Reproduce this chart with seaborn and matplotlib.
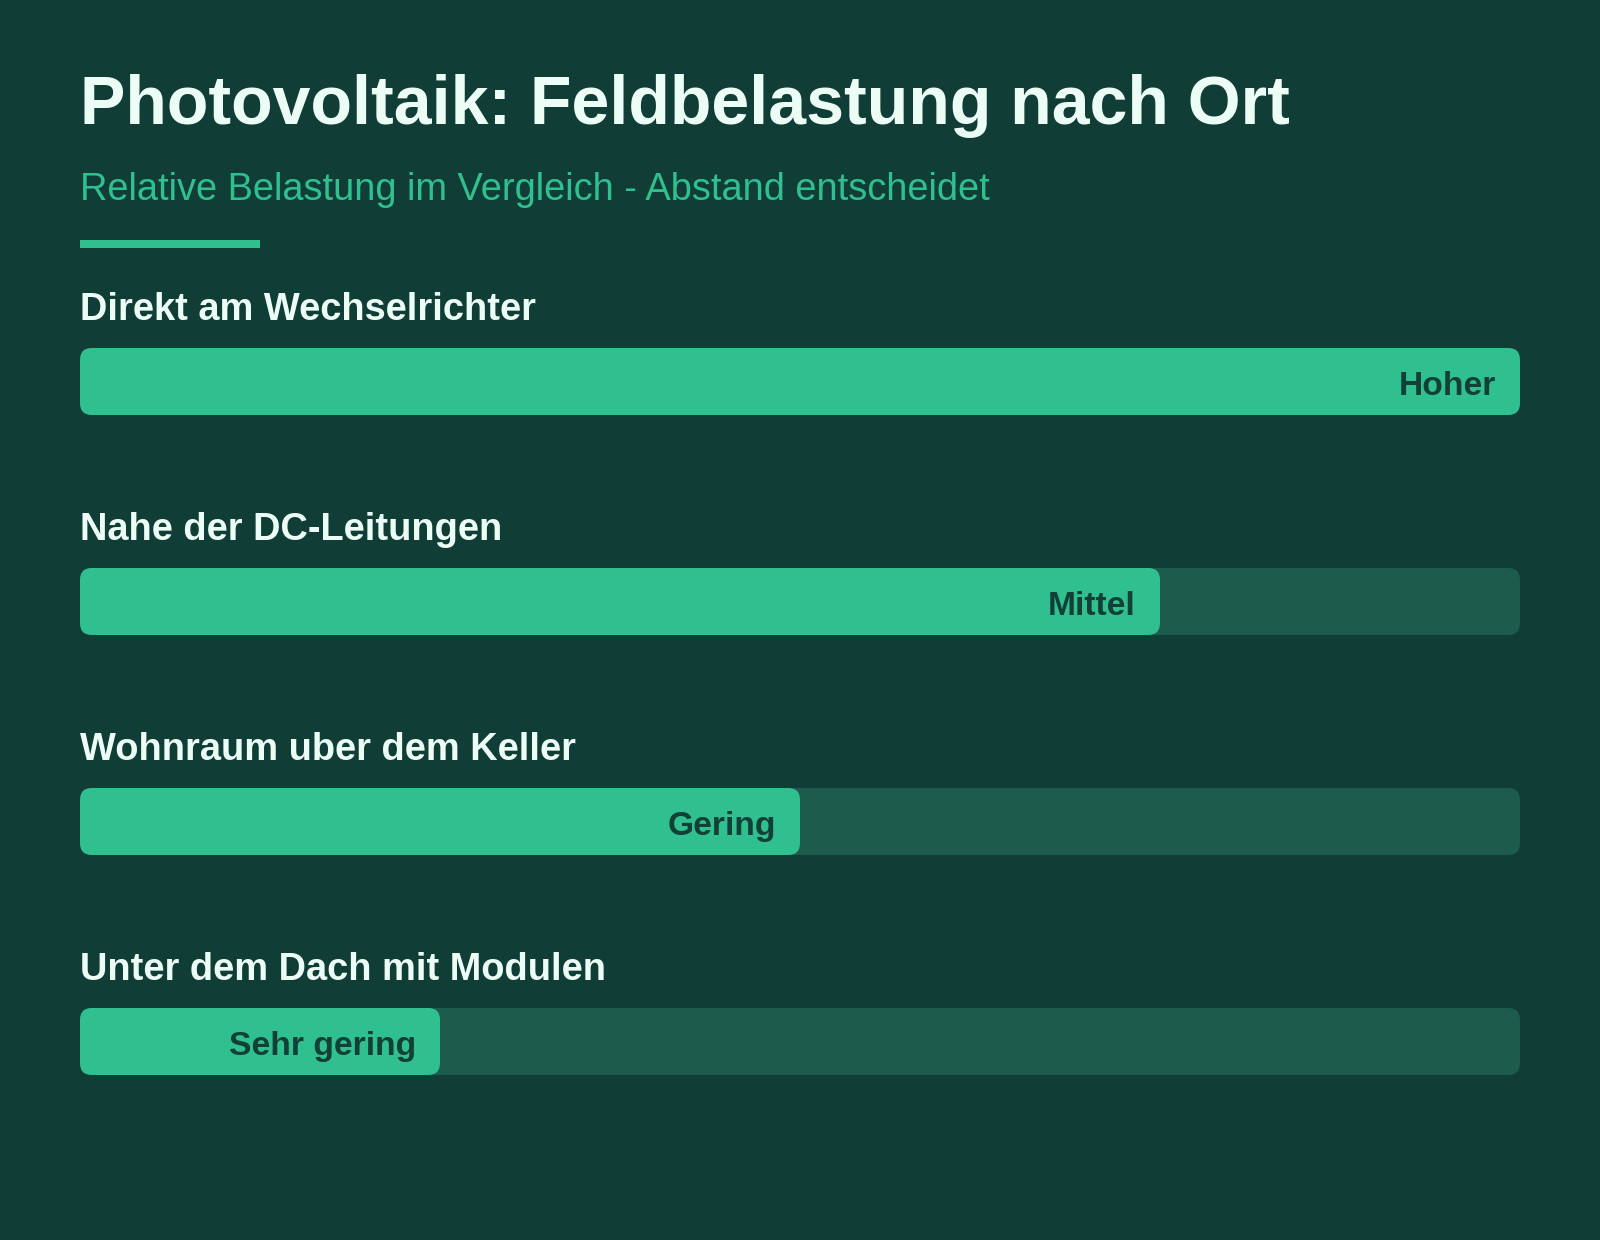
import matplotlib
matplotlib.use("Agg")
import matplotlib.pyplot as plt
from matplotlib.patches import FancyBboxPatch, Rectangle
import seaborn as sns
import pandas as pd

# data
locations = ["Direkt am Wechselrichter", "Nahe der DC-Leitungen",
             "Wohnraum uber dem Keller", "Unter dem Dach mit Modulen"]
load_pct = [100, 75, 50, 25]
level_labels = ["Hoher", "Mittel", "Gering", "Sehr gering"]
track_max = [100, 100, 100, 100]

BG = "#103d35"
FILL = "#30c090"
TRACK = "#1d5b4d"
LIGHT = "#ecfdf5"
DARK = "#123f36"

sns.set_theme(style="white")
plt.rcParams["font.family"] = ["Liberation Sans", "DejaVu Sans"]

df = pd.DataFrame({"location": locations, "load": load_pct,
                   "track": track_max, "level": level_labels})

W, H = 1600, 1240
fig = plt.figure(figsize=(16, 12.4), dpi=100, facecolor=BG)

# axes area: bars between x=80..1520 px, rows 220 px apart
ax = fig.add_axes([80 / W, (H - 1151.5) / H, 1440 / W, 880 / H])
ax.set_facecolor(BG)
bar_h = 67 / 220

sns.barplot(data=df, x="track", y="location", orient="h", color=TRACK,
            width=bar_h, saturation=1, ax=ax)
sns.barplot(data=df, x="load", y="location", orient="h", color=FILL,
            width=bar_h, saturation=1, ax=ax)

ax.set_xlim(0, 100)
ax.set_ylim(3.5, -0.5)

# swap plain rectangles for rounded ones
px_x = 1440 / 100
px_y = 220
aspect = px_x / px_y
radius = 12 / px_x
for p in list(ax.patches):
    x0, y0 = p.get_x(), p.get_y()
    w, h = p.get_width(), p.get_height()
    fc = p.get_facecolor()
    p.remove()
    ax.add_patch(FancyBboxPatch((x0, y0), w, h,
                                boxstyle=f"round,pad=0,rounding_size={radius}",
                                mutation_aspect=aspect, facecolor=fc,
                                edgecolor="none", linewidth=0))

for i, row in df.iterrows():
    ax.text(0, i - bar_h / 2 - 28 / px_y, row["location"], color=LIGHT,
            fontsize=27.4, fontweight="bold", ha="left", va="baseline")
    ax.text(row["load"] - 24 / px_x, i + 13.5 / px_y, row["level"], color=DARK,
            fontsize=24.2, fontweight="bold", ha="right", va="baseline")

ax.set_xlabel("")
ax.set_ylabel("")
ax.set_xticks([])
ax.set_yticks([])
sns.despine(ax=ax, left=True, bottom=True)

fig.text(80 / W, 1 - 124.5 / H, "Photovoltaik: Feldbelastung nach Ort",
         color=LIGHT, fontsize=49, fontweight="bold", ha="left", va="baseline")
fig.text(80 / W, 1 - 200 / H, "Relative Belastung im Vergleich - Abstand entscheidet",
         color=FILL, fontsize=27.4, ha="left", va="baseline")
fig.patches.append(Rectangle((80 / W, 1 - 248 / H), 180 / W, 8 / H,
                             transform=fig.transFigure, facecolor=FILL,
                             edgecolor="none"))

fig.savefig("out.png", dpi=100, facecolor=BG)
